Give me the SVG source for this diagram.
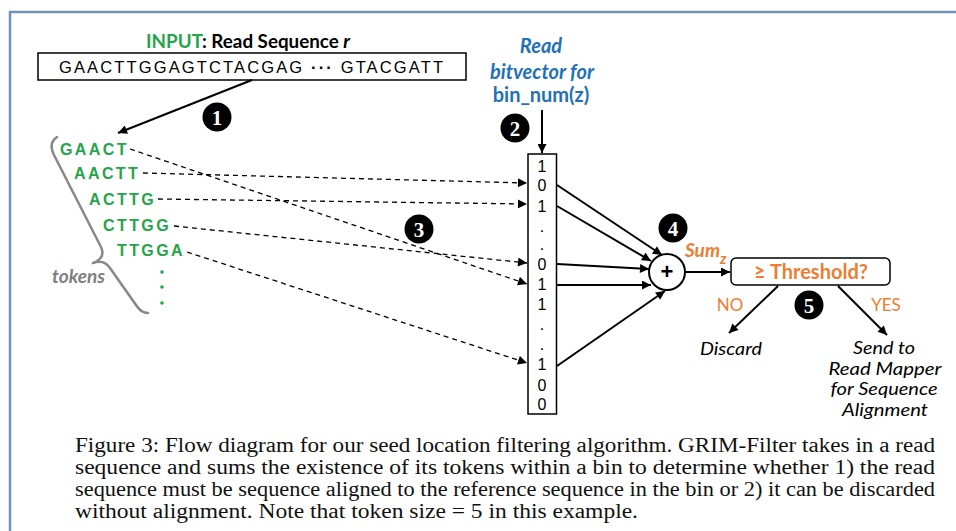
<svg xmlns="http://www.w3.org/2000/svg" width="956" height="531" viewBox="0 0 956 531">
<defs>
<marker id="ah" viewBox="0 0 10 10" refX="10" refY="5" markerWidth="10" markerHeight="9" markerUnits="userSpaceOnUse" orient="auto">
<path d="M0,0 L10,5 L0,10 z" fill="#000"/>
</marker>
<style>
.cal{font-family:Lato,"Open Sans","Liberation Sans",sans-serif}
.ar{font-family:"Liberation Sans",Arial,sans-serif}
.tok{font-family:"Liberation Sans",Arial,sans-serif;font-weight:bold;font-size:16px;fill:#24a54a;letter-spacing:2.4px}
.bit{font-family:"Liberation Sans",Arial,sans-serif;font-size:16px;fill:#000;text-anchor:middle}
.badge circle{fill:#000}
.badge text{font-family:"Liberation Serif","Times New Roman",serif;font-weight:bold;font-size:21px;fill:#fff;text-anchor:middle}
.solid{stroke:#000;stroke-width:2;fill:none}
.dash{stroke:#000;stroke-width:1.3;fill:none;stroke-dasharray:5 4}
.out{font-family:Lato,"Open Sans","Liberation Sans",sans-serif;font-size:17px;font-style:italic;fill:#000;text-anchor:middle}
.cap{font-family:"Liberation Serif","Times New Roman",serif;font-size:20px;fill:#111}
</style>
</defs>
<rect width="956" height="531" fill="#fff"/>
<path d="M10,531 L10,12 L956,12" fill="none" stroke="#6f93b8" stroke-width="2.5"/>

<g id="input">
<text class="cal" x="248" y="48" font-size="19" font-weight="bold" text-anchor="middle" textLength="204" lengthAdjust="spacingAndGlyphs"><tspan fill="#24a54a">INPUT</tspan><tspan fill="#000">: Read Sequence </tspan><tspan fill="#000" font-style="italic">r</tspan></text>
<rect x="38" y="53" width="428" height="27" fill="#fff" stroke="#000" stroke-width="1.5"/>
<text class="ar" x="59" y="73" font-size="16.5" textLength="384" lengthAdjust="spacing">GAACTTGGAGTCTACGAG <tspan font-weight="bold">···</tspan> GTACGATT</text>
</g>

<g id="tokens">
<path d="M57,137 Q48,143 54,155 L101,247 Q106,258 93,263 Q104,259 110,268 L136,305 Q141,313 148,313" fill="none" stroke="#888" stroke-width="2.5" stroke-linecap="round" stroke-linejoin="round"/>
<text class="cal" x="52" y="283" font-size="19" font-weight="bold" font-style="italic" fill="#7f7f7f">tokens</text>
<text class="tok" x="60" y="155">GAACT</text>
<text class="tok" x="74" y="179">AACTT</text>
<text class="tok" x="89" y="205">ACTTG</text>
<text class="tok" x="103" y="231">CTTGG</text>
<text class="tok" x="117" y="256">TTGGA</text>
<circle cx="162" cy="272" r="1.8" fill="#24a54a"/>
<circle cx="162" cy="287" r="1.8" fill="#24a54a"/>
<circle cx="162" cy="303" r="1.8" fill="#24a54a"/>
</g>

<g id="bitvector-label">
<text class="cal" x="541" y="53" font-size="20" font-weight="bold" font-style="italic" fill="#2270B8" text-anchor="middle">Read</text>
<text class="cal" x="542" y="79" font-size="20" font-weight="bold" font-style="italic" fill="#2270B8" text-anchor="middle">bitvector for</text>
<text class="cal" x="541" y="102" font-size="20" font-weight="bold" fill="#2270B8" text-anchor="middle">bin_num(z)</text>
</g>

<g id="bitvector">
<rect x="528" y="154" width="28.5" height="260" fill="#fff" stroke="#000" stroke-width="1.5"/>
<text class="bit" x="542" y="172">1</text>
<text class="bit" x="542" y="191">0</text>
<text class="bit" x="542" y="212">1</text>
<text class="bit" x="542" y="232">.</text>
<text class="bit" x="542" y="250">.</text>
<text class="bit" x="542" y="270">0</text>
<text class="bit" x="542" y="290">1</text>
<text class="bit" x="542" y="310">1</text>
<text class="bit" x="542" y="330">.</text>
<text class="bit" x="542" y="350">.</text>
<text class="bit" x="542" y="370">1</text>
<text class="bit" x="542" y="391">0</text>
<text class="bit" x="542" y="410">0</text>
</g>

<g id="sum">
<circle cx="667" cy="272" r="18" fill="#fff" stroke="#000" stroke-width="2"/>
<text class="ar" x="667" y="279" font-size="22" font-weight="bold" text-anchor="middle">+</text>
<text class="cal" x="685" y="257" font-size="19" font-weight="bold" font-style="italic" fill="#ED7D31">Sum<tspan font-size="15" dy="7">z</tspan></text>
</g>

<g id="threshold">
<rect x="731" y="258" width="159" height="27" rx="5" fill="#fff" stroke="#000" stroke-width="1.5"/>
<text class="cal" x="811" y="278.5" font-size="20" font-weight="bold" fill="#ED7D31" text-anchor="middle">≥ Threshold?</text>
</g>

<g id="outcomes">
<text class="cal" x="730" y="311" font-size="17" fill="#ED7D31" text-anchor="middle">NO</text>
<text class="cal" x="886" y="311" font-size="17" fill="#ED7D31" text-anchor="middle">YES</text>
<text class="out" x="731" y="355" textLength="62" lengthAdjust="spacingAndGlyphs">Discard</text>
<text class="out" x="884" y="354" textLength="62" lengthAdjust="spacingAndGlyphs">Send to</text>
<text class="out" x="885" y="374.5" textLength="113" lengthAdjust="spacingAndGlyphs">Read Mapper</text>
<text class="out" x="884" y="395" textLength="107" lengthAdjust="spacingAndGlyphs">for Sequence</text>
<text class="out" x="885" y="415.5" textLength="86" lengthAdjust="spacingAndGlyphs">Alignment</text>
</g>

<g id="badges">
<g class="badge" id="b1"><circle cx="217" cy="117" r="14.5"/><text x="217" y="124.5">1</text></g>
<g class="badge" id="b2"><circle cx="515" cy="128" r="14.5"/><text x="515" y="135.5">2</text></g>
<g class="badge" id="b3"><circle cx="419" cy="229" r="14.5"/><text x="419" y="236.5">3</text></g>
<g class="badge" id="b4"><circle cx="673" cy="228" r="14.5"/><text x="673" y="235.5">4</text></g>
<g class="badge" id="b5"><circle cx="809" cy="305" r="14.5"/><text x="809" y="312.5">5</text></g>
</g>

<g id="connectors">
<line class="solid" x1="252" y1="80" x2="118" y2="133" marker-end="url(#ah)"/>
<line class="solid" x1="542" y1="110" x2="542" y2="153" marker-end="url(#ah)"/>
<line class="dash" x1="130" y1="149" x2="527" y2="284" marker-end="url(#ah)"/>
<line class="dash" x1="143" y1="173" x2="527" y2="183" marker-end="url(#ah)"/>
<line class="dash" x1="158" y1="199" x2="527" y2="204" marker-end="url(#ah)"/>
<line class="dash" x1="174" y1="226" x2="527" y2="263" marker-end="url(#ah)"/>
<line class="dash" x1="187" y1="252" x2="527" y2="363" marker-end="url(#ah)"/>
<line class="solid" x1="557" y1="185" x2="662" y2="255" marker-end="url(#ah)"/>
<line class="solid" x1="557" y1="206" x2="651" y2="261" marker-end="url(#ah)"/>
<line class="solid" x1="557" y1="264" x2="649" y2="269" marker-end="url(#ah)"/>
<line class="solid" x1="557" y1="285" x2="651" y2="285" marker-end="url(#ah)"/>
<line class="solid" x1="557" y1="366" x2="665" y2="291" marker-end="url(#ah)"/>
<line class="solid" x1="685" y1="272" x2="730" y2="272" marker-end="url(#ah)"/>
<line class="solid" x1="778" y1="286" x2="729" y2="333" marker-end="url(#ah)"/>
<line class="solid" x1="838" y1="286" x2="887" y2="335" marker-end="url(#ah)"/>
</g>

<g id="caption">
<text class="cap" x="75" y="452" textLength="860" lengthAdjust="spacingAndGlyphs">Figure 3: Flow diagram for our seed location filtering algorithm. GRIM-Filter takes in a read</text>
<text class="cap" x="75" y="474" textLength="860" lengthAdjust="spacingAndGlyphs">sequence and sums the existence of its tokens within a bin to determine whether 1) the read</text>
<text class="cap" x="75" y="496" textLength="860" lengthAdjust="spacingAndGlyphs">sequence must be sequence aligned to the reference sequence in the bin or 2) it can be discarded</text>
<text class="cap" x="75" y="518" textLength="563" lengthAdjust="spacingAndGlyphs">without alignment. Note that token size = 5 in this example.</text>
</g>
</svg>
